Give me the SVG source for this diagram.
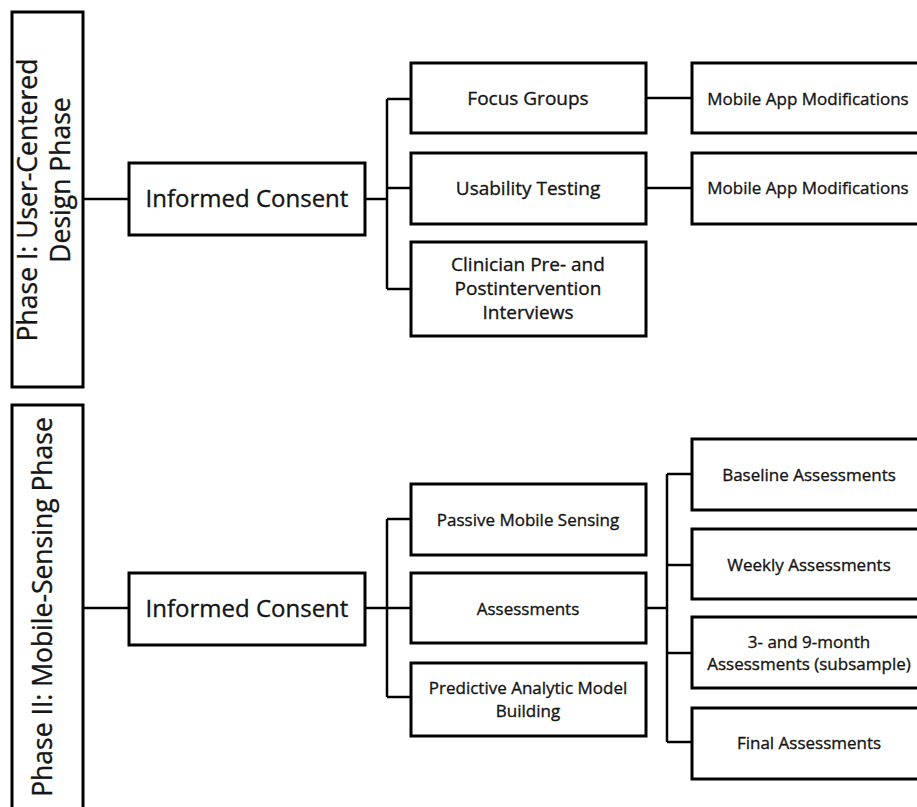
<svg xmlns="http://www.w3.org/2000/svg" width="917" height="807" viewBox="0 0 917 807">
<style>
.box{fill:#fff;stroke:#000;stroke-width:3}
.ln{fill:none;stroke:#000;stroke-width:2.5}
text{font-family:"Open Sans","Noto Sans",sans-serif;fill:#151515;stroke:#151515;stroke-width:0.35;text-anchor:middle}
.ph{font-size:26.5px}
.ic{font-size:24px}
.l2{font-size:19px}
.l3{font-size:17px}
.s{font-size:17px}
</style>
<rect width="917" height="807" fill="#fff"/>
<g id="connectors">
<path class="ln" d="M83,199H129M365,199H387M387,99V289M387,99H411M387,188H411M387,289H411M646,98H692M646,188H692"/>
<path class="ln" d="M83,608H129M365,608H387M387,519V697M387,519H411M387,608H411M387,697H411M646,608H667M667,474V742M667,474H692M667,565H692M667,653H692M667,742H692"/>
</g>
<g id="phase1">
<rect class="box" x="12" y="12" width="71" height="375"/>
<text class="ph" transform="translate(37,200) rotate(-90)">Phase I: User-Centered</text>
<text class="ph" transform="translate(70,180) rotate(-90)">Design Phase</text>
</g>
<g id="consent1"><rect class="box" x="129" y="163" width="236" height="72"/><text class="ic" x="247" y="207">Informed Consent</text></g>
<g id="focus"><rect class="box" x="411" y="63" width="235" height="70"/><text class="l2" x="528" y="105">Focus Groups</text></g>
<g id="usability"><rect class="box" x="411" y="153" width="235" height="71"/><text class="l2" x="528" y="195">Usability Testing</text></g>
<g id="clinician"><rect class="box" x="411" y="242" width="235" height="94"/><text class="l2" x="528" y="271">Clinician Pre- and</text><text class="l2" x="528" y="295">Postintervention</text><text class="l2" x="528" y="319">Interviews</text></g>
<g id="mod1"><rect class="box" x="692" y="63" width="240" height="70"/><text class="l3" x="808" y="105">Mobile App Modifications</text></g>
<g id="mod2"><rect class="box" x="692" y="153" width="240" height="71"/><text class="l3" x="808" y="194">Mobile App Modifications</text></g>
<g id="phase2">
<rect class="box" x="12" y="405" width="71" height="420"/>
<text class="ph" transform="translate(52,607) rotate(-90)">Phase II: Mobile-Sensing Phase</text>
</g>
<g id="consent2"><rect class="box" x="129" y="573" width="236" height="72"/><text class="ic" x="247" y="617">Informed Consent</text></g>
<g id="passive"><rect class="box" x="411" y="484" width="235" height="71"/><text class="s" x="528" y="526">Passive Mobile Sensing</text></g>
<g id="assess"><rect class="box" x="411" y="573" width="235" height="70"/><text class="s" x="528" y="615">Assessments</text></g>
<g id="predictive"><rect class="box" x="411" y="663" width="235" height="73"/><text class="s" x="528" y="694">Predictive Analytic Model</text><text class="s" x="528" y="717">Building</text></g>
<g id="baseline"><rect class="box" x="692" y="439" width="240" height="71"/><text class="s" x="809" y="481">Baseline Assessments</text></g>
<g id="weekly"><rect class="box" x="692" y="529" width="240" height="70"/><text class="s" x="809" y="571">Weekly Assessments</text></g>
<g id="month"><rect class="box" x="692" y="617" width="240" height="71"/><text class="s" x="809" y="648">3- and 9-month</text><text class="s" x="809" y="670">Assessments (subsample)</text></g>
<g id="final"><rect class="box" x="692" y="708" width="240" height="71"/><text class="s" x="809" y="749">Final Assessments</text></g>
</svg>
